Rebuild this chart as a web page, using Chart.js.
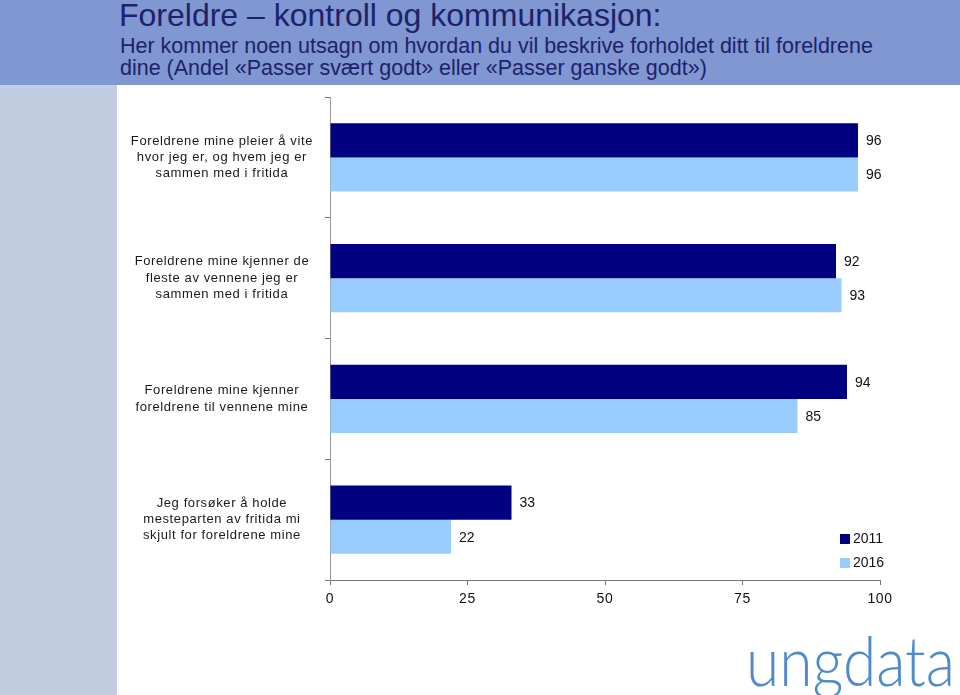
<!DOCTYPE html>
<html><head><meta charset="utf-8">
<script src="https://cdn.jsdelivr.net/npm/chart.js@4/dist/chart.umd.min.js"></script>
<style>
html,body{margin:0;padding:0;background:#fff;}
#wrap{position:relative;width:960px;height:695px;overflow:hidden;font-family:"Liberation Sans",Arial,sans-serif;}
#banner{position:absolute;left:0;top:0;width:960px;height:85px;background:#8097d1;}
#side{position:absolute;left:0;top:85px;width:117px;height:610px;background:#c2cde2;}
#title{position:absolute;left:119px;top:-3px;font-family:"Liberation Sans",Arial,sans-serif;font-size:32px;color:#1d226a;white-space:nowrap;}
#sub{position:absolute;left:120px;top:35px;font-family:"Liberation Sans",Arial,sans-serif;font-size:21.5px;line-height:22px;color:#1d226a;white-space:nowrap;}
#c{position:absolute;left:0;top:0;}
#legend{position:absolute;left:840px;top:529px;font-size:14px;color:#111;}
#legend div{height:24px;line-height:18px;}
#legend span.sw{display:inline-block;width:10px;height:10px;margin-right:3px;vertical-align:-1px;}
#logo{position:absolute;left:746px;top:619px;font-family:"Lato","Noto Sans",sans-serif;font-weight:300;font-size:68px;line-height:normal;color:#4f8bca;white-space:nowrap;transform-origin:0 0;}
</style></head>
<body><div id="wrap">
<div id="banner"></div><div id="side"></div>
<div id="title">Foreldre – kontroll og kommunikasjon:</div>
<div id="sub">Her kommer noen utsagn om hvordan du vil beskrive forholdet ditt til foreldrene<br>dine (Andel «Passer svært godt» eller «Passer ganske godt»)</div>
<canvas id="c" width="960" height="695"></canvas>
<div id="legend"></div>
<div id="logo">ungdata</div>
</div>
<script>
const categories = [
  ["Foreldrene mine pleier å vite","hvor jeg er, og hvem jeg er","sammen med i fritida"],
  ["Foreldrene mine kjenner de","fleste av vennene jeg er","sammen med i fritida"],
  ["Foreldrene mine kjenner","foreldrene til vennene mine"],
  ["Jeg forsøker å holde","mesteparten av fritida mi","skjult for foreldrene mine"]
];
const seriesNames = ["2011","2016"];
const values2011 = [96, 92, 94, 33];
const values2016 = [96, 93, 85, 22];
const xTicks = [0, 25, 50, 75, 100];
const colors = ["#000080", "#99ccff"];

const legend = document.getElementById('legend');
seriesNames.forEach((n,i)=>{
  const d=document.createElement('div');
  d.innerHTML='<span class="sw" style="background:'+colors[i]+'"></span>'+n;
  legend.appendChild(d);
});

const logo = document.getElementById('logo');
const lw = logo.getBoundingClientRect().width;
logo.style.transform = 'scaleX(' + (209/lw) + ')';

const spacing = {
  id:'spacing',
  beforeUpdate(chart){ chart.ctx.letterSpacing='0.6px'; },
  beforeDraw(chart){ chart.ctx.letterSpacing='0.6px'; }
};

const valueLabels = {
  id:'valueLabels',
  afterDatasetsDraw(chart){
    const ctx=chart.ctx;
    ctx.save();
    ctx.letterSpacing='0px';
    ctx.font='14px "Liberation Sans", Arial, sans-serif';
    ctx.fillStyle='#111';
    ctx.textBaseline='middle';
    ctx.textAlign='left';
    chart.data.datasets.forEach((ds,di)=>{
      chart.getDatasetMeta(di).data.forEach((bar,i)=>{
        ctx.fillText(String(ds.data[i]), bar.x+8, bar.y+1);
      });
    });
    ctx.restore();
  }
};

new Chart(document.getElementById('c'), {
  type:'bar',
  data:{
    labels: categories,
    datasets:[
      {label:seriesNames[0], data:values2011, backgroundColor:colors[0], barPercentage:1, categoryPercentage:0.565},
      {label:seriesNames[1], data:values2016, backgroundColor:colors[1], barPercentage:1, categoryPercentage:0.565}
    ]
  },
  options:{
    indexAxis:'y',
    responsive:false,
    animation:false,
    devicePixelRatio:1,
    layout:{padding:{left:0,top:97,right:80,bottom:75}},
    plugins:{legend:{display:false},tooltip:{enabled:false}},
    scales:{
      x:{
        min:0,max:100,
        afterBuildTicks(s){ s.ticks = xTicks.map(v=>({value:v})); },
        afterFit(s){ s.height = 40; },
        grid:{drawOnChartArea:false, tickLength:5, color:'#777'},
        border:{color:'#777'},
        ticks:{font:{size:14,family:'"Liberation Sans", Arial, sans-serif'},color:'#111',padding:6}
      },
      y:{
        afterFit(s){ s.width = 330; },
        grid:{drawOnChartArea:false, tickLength:5, color:'#777', offset:true},
        border:{color:'#999'},
        ticks:{crossAlign:'center',padding:12,font:{size:13,family:'"Liberation Sans", Arial, sans-serif',lineHeight:1.25},color:'#1a1a1a'}
      }
    }
  },
  plugins:[spacing, valueLabels]
});
</script>
</body></html>
